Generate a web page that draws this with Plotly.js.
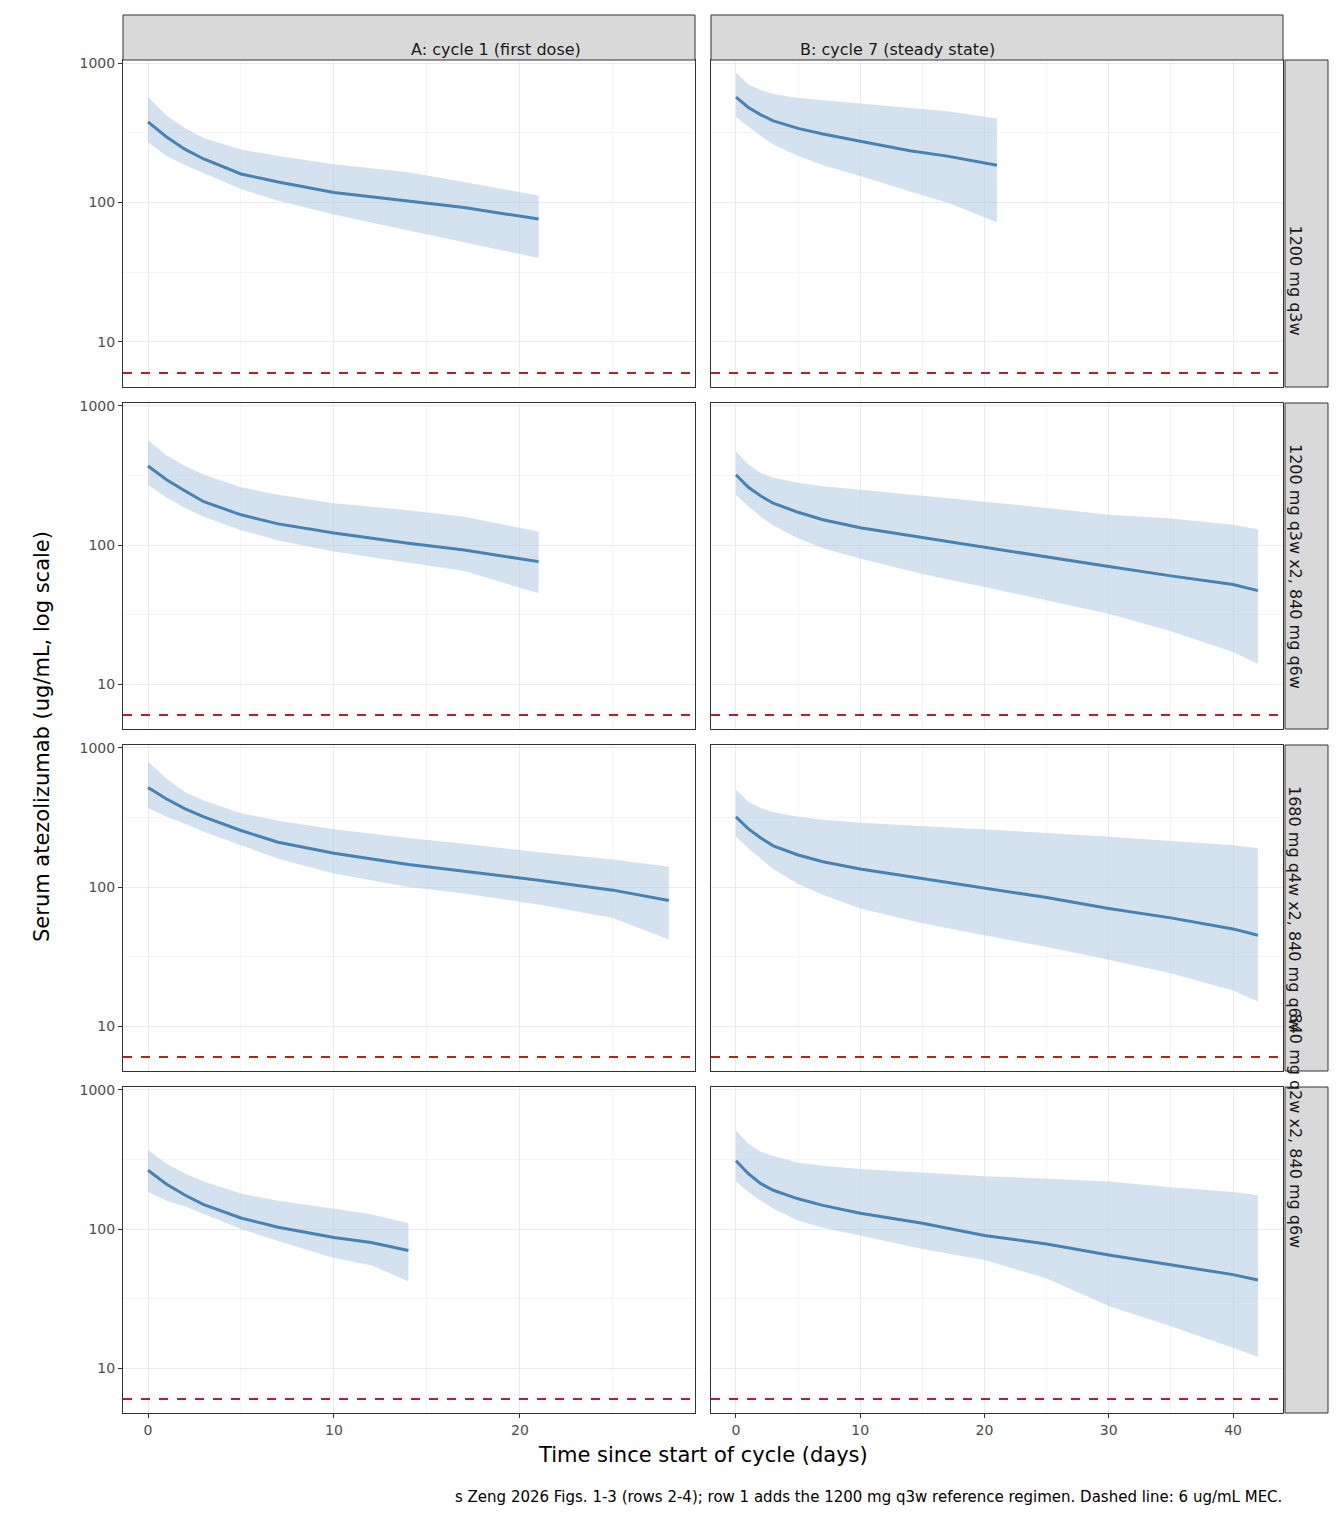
<!DOCTYPE html>
<html>
<head>
<meta charset="utf-8">
<script src="https://cdn.plot.ly/plotly-3.0.1.min.js"></script>
<style>body{margin:0;background:#fff}</style>
</head>
<body>
<div id="chart" style="width:1344px;height:1536px"></div>
<script>
// column / row labels
var colLabels = ['A: cycle 1 (first dose)', 'B: cycle 7 (steady state)'];
var rowLabels = ['1200 mg q3w', '1200 mg q3w x2, 840 mg q6w', '1680 mg q4w x2, 840 mg q6w', '840 mg q2w x2, 840 mg q6w'];
var mec = 6;

// days + median / 5th / 95th
var r1aDays = [0, 1, 2, 3, 5, 7, 10, 14, 17, 21];
var r1aMed  = [378, 295, 240, 205, 160, 140, 118, 103, 92, 76];
var r1aHi   = [570, 420, 340, 290, 240, 215, 188, 165, 140, 112];
var r1aLo   = [270, 215, 185, 162, 125, 103, 82, 63, 52, 40];

var r1bDays = [0, 1, 2, 3, 5, 7, 10, 14, 17, 21];
var r1bMed  = [570, 480, 425, 385, 340, 310, 275, 235, 215, 185];
var r1bHi   = [850, 700, 640, 600, 560, 540, 510, 475, 450, 400];
var r1bLo   = [410, 350, 300, 260, 215, 185, 155, 120, 100, 72];

var r2aDays = [0, 1, 2, 3, 5, 7, 10, 14, 17, 21];
var r2aMed  = [370, 295, 245, 205, 165, 142, 122, 103, 92, 76];
var r2aHi   = [570, 440, 370, 320, 260, 230, 200, 178, 160, 125];
var r2aLo   = [270, 220, 185, 160, 128, 108, 90, 75, 65, 45];

var r2bDays = [0, 1, 2, 3, 5, 7, 10, 15, 20, 25, 30, 35, 40, 42];
var r2bMed  = [320, 260, 225, 200, 172, 152, 133, 113, 97, 82, 70, 60, 52, 47];
var r2bHi   = [470, 380, 330, 305, 280, 265, 250, 225, 205, 185, 165, 155, 140, 130];
var r2bLo   = [230, 190, 160, 138, 112, 95, 80, 62, 50, 40, 32, 24, 17, 14];

var r3aDays = [0, 1, 2, 3, 5, 7, 10, 14, 17, 21, 25, 28];
var r3aMed  = [520, 430, 365, 320, 255, 210, 175, 145, 130, 112, 95, 80];
var r3aHi   = [800, 600, 480, 420, 340, 300, 260, 225, 205, 178, 158, 140];
var r3aLo   = [370, 320, 285, 250, 200, 160, 125, 100, 90, 75, 60, 42];

var r3bDays = [0, 1, 2, 3, 5, 7, 10, 15, 20, 25, 30, 35, 40, 42];
var r3bMed  = [320, 262, 225, 198, 170, 152, 135, 115, 98, 84, 70, 60, 50, 45];
var r3bHi   = [500, 410, 370, 345, 320, 305, 290, 275, 260, 245, 230, 215, 200, 190];
var r3bLo   = [230, 190, 160, 135, 105, 88, 70, 55, 45, 37, 30, 24, 18, 15];

var r4aDays = [0, 1, 2, 3, 5, 7, 10, 12, 14];
var r4aMed  = [265, 210, 175, 150, 120, 103, 87, 80, 70];
var r4aHi   = [370, 295, 250, 220, 180, 160, 140, 128, 110];
var r4aLo   = [185, 160, 145, 128, 100, 82, 62, 55, 42];

var r4bDays = [0, 1, 2, 3, 5, 7, 10, 15, 20, 25, 30, 35, 40, 42];
var r4bMed  = [310, 250, 212, 190, 165, 148, 130, 110, 90, 78, 65, 55, 47, 43];
var r4bHi   = [510, 410, 360, 335, 300, 285, 270, 255, 240, 230, 220, 200, 185, 175];
var r4bLo   = [220, 185, 160, 140, 115, 102, 90, 72, 60, 44, 28, 20, 14, 12];

var panels = [
  [r1aDays, r1aMed, r1aHi, r1aLo], [r1bDays, r1bMed, r1bHi, r1bLo],
  [r2aDays, r2aMed, r2aHi, r2aLo], [r2bDays, r2bMed, r2bHi, r2bLo],
  [r3aDays, r3aMed, r3aHi, r3aLo], [r3bDays, r3bMed, r3bHi, r3bLo],
  [r4aDays, r4aMed, r4aHi, r4aLo], [r4bDays, r4bMed, r4bHi, r4bLo]
];

var W = 1344, H = 1536;
var colPx = [[123, 695], [711, 1283]];
var rowPx = [[60, 387], [403, 729], [745, 1071], [1087, 1413]];
var xRanges = [[-1.344, 29.41], [-2.01, 44.02]];
var yRange = [0.677, 3.0215];

var font = 'DejaVu Sans, Liberation Sans, sans-serif';
var data = [], shapes = [], annotations = [];
var layout = {
  width: W, height: H,
  margin: {l: 0, r: 0, t: 0, b: 0},
  paper_bgcolor: '#fff', plot_bgcolor: '#fff',
  showlegend: false,
  font: {family: font, color: '#1a1a1a'}
};

panels.forEach(function(p, i) {
  var row = Math.floor(i / 2), col = i % 2;
  var n = i + 1, sfx = n === 1 ? '' : n;
  var xa = 'x' + sfx, ya = 'y' + sfx;
  // ribbon
  data.push({x: p[0], y: p[3], xaxis: xa, yaxis: ya, mode: 'lines', line: {width: 0}, hoverinfo: 'skip'});
  data.push({x: p[0], y: p[2], xaxis: xa, yaxis: ya, mode: 'lines', line: {width: 0},
    fill: 'tonexty', fillcolor: 'rgba(176,201,226,0.55)'});
  data.push({x: p[0], y: p[1], xaxis: xa, yaxis: ya, mode: 'lines', line: {color: '#4682b4', width: 3}});

  var minorX = col === 0 ? [5, 15, 25] : [5, 15, 25, 35];
  layout['xaxis' + sfx] = {
    domain: [colPx[col][0] / W, colPx[col][1] / W], anchor: ya,
    range: xRanges[col], tickvals: col === 0 ? [0, 10, 20] : [0, 10, 20, 30, 40],
    showticklabels: row === 3, ticks: row === 3 ? 'outside' : '', ticklen: 4, tickcolor: '#333',
    tickfont: {size: 14, color: '#4d4d4d'},
    gridcolor: '#ebebeb', gridwidth: 1.3, zeroline: false,
    showline: true, mirror: true, linecolor: '#333', linewidth: 1,
    minor: {tickvals: minorX, showgrid: true, gridcolor: '#f5f5f5', gridwidth: 0.8}
  };
  layout['yaxis' + sfx] = {
    domain: [1 - rowPx[row][1] / H, 1 - rowPx[row][0] / H], anchor: xa,
    type: 'log', range: yRange, tickvals: [10, 100, 1000], ticktext: ['10', '100', '1000'],
    showticklabels: col === 0, ticks: col === 0 ? 'outside' : '', ticklen: 4, tickcolor: '#333',
    tickfont: {size: 14, color: '#4d4d4d'},
    gridcolor: '#ebebeb', gridwidth: 1.3, zeroline: false,
    showline: true, mirror: true, linecolor: '#333', linewidth: 1,
    minor: {tickvals: [3.162, 31.62, 316.2], showgrid: true, gridcolor: '#f5f5f5', gridwidth: 0.8}
  };
  shapes.push({type: 'line', xref: xa + ' domain', yref: ya, x0: 0, x1: 1, y0: mec, y1: mec,
    line: {color: '#b22222', width: 2, dash: 'dash'}});
});

// top strips
colLabels.forEach(function(t, c) {
  shapes.push({type: 'rect', xref: 'paper', yref: 'paper', x0: colPx[c][0] / W, x1: colPx[c][1] / W,
    y0: 1 - 60 / H, y1: 1 - 15 / H, fillcolor: '#d9d9d9', line: {color: '#333', width: 1}});
  annotations.push({text: t, xref: 'paper', yref: 'paper', x: (colPx[c][0] + colPx[c][1]) / 2 / W,
    y: 1 - 37.5 / H, showarrow: false, font: {size: 16, color: '#1a1a1a'}});
});
// right strips
rowLabels.forEach(function(t, r) {
  shapes.push({type: 'rect', xref: 'paper', yref: 'paper', x0: 1285 / W, x1: 1328 / W,
    y0: 1 - rowPx[r][1] / H, y1: 1 - rowPx[r][0] / H, fillcolor: '#d9d9d9', line: {color: '#333', width: 1}});
  annotations.push({text: t, xref: 'paper', yref: 'paper', x: 1306.5 / W,
    y: 1 - (rowPx[r][0] + rowPx[r][1]) / 2 / H, textangle: 90, showarrow: false,
    font: {size: 16, color: '#1a1a1a'}});
});

annotations.push({text: 'Time since start of cycle (days)', xref: 'paper', yref: 'paper',
  x: 703 / W, y: 1 - 1469 / H, showarrow: false, font: {size: 21, color: '#000'}});
annotations.push({text: 'Serum atezolizumab (ug/mL, log scale)', xref: 'paper', yref: 'paper',
  x: 28 / W, y: 1 - 737 / H, textangle: -90, showarrow: false, font: {size: 21, color: '#000'}});
annotations.push({text: 's Zeng 2026 Figs. 1-3 (rows 2-4); row 1 adds the 1200 mg q3w reference regimen. Dashed line: 6 ug/mL MEC.',
  xref: 'paper', yref: 'paper', x: 1284 / W, xanchor: 'right', y: 1 - 1508 / H,
  showarrow: false, font: {size: 15, color: '#000'}});

layout.shapes = shapes;
layout.annotations = annotations;

Plotly.newPlot('chart', data, layout, {displayModeBar: false});
</script>
</body>
</html>
